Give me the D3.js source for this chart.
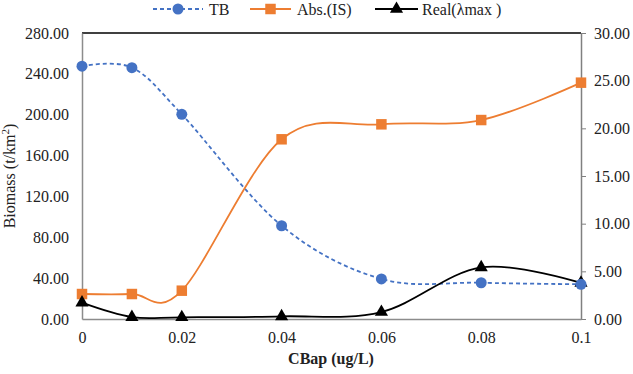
<!DOCTYPE html>
<html><head><meta charset="utf-8">
<script src="https://cdn.jsdelivr.net/npm/d3@7"></script>
<style>body{margin:0;background:#fff}svg{display:block}</style>
</head><body><svg id="c" width="633" height="374" font-family="Liberation Serif"></svg>
<script>
const xValues = [0, 0.01, 0.02, 0.04, 0.06, 0.08, 0.1];
const xTicks = [0, 0.02, 0.04, 0.06, 0.08, 0.1];
const xTickLabels = ["0", "0.02", "0.04", "0.06", "0.08", "0.1"];
const tb = [247.5, 246.1, 200.4, 91.3, 39.2, 35.5, 34.0];          // left axis
const absIS = [2.62, 2.62, 2.97, 18.85, 20.42, 20.87, 24.79];      // right axis
const realMax = [1.71, 0.20, 0.18, 0.28, 0.73, 5.42, 3.78];        // right axis
const leftTicks = [0, 40, 80, 120, 160, 200, 240, 280];
const rightTicks = [0, 5, 10, 15, 20, 25, 30];
const seriesNames = ["TB", "Abs.(IS)", "Real(\u03bbmax )"];

const FONT = "Liberation Serif";
const svg = d3.select("#c");
const L = 82, R = 581, T = 33, B = 319;
const x = d3.scaleLinear().domain([0, 0.1]).range([L, R]);
const yL = d3.scaleLinear().domain([0, 280]).range([B, T]);
const yR = d3.scaleLinear().domain([0, 30]).range([B, T]);

svg.append("line").attr("x1", L).attr("x2", R).attr("y1", T).attr("y2", T).attr("stroke", "#000").attr("stroke-width", 1.5);

const gl = svg.append("g").attr("transform", `translate(${L},0)`)
  .call(d3.axisLeft(yL).tickValues(leftTicks).tickFormat(d3.format(".2f")).tickSize(0).tickPadding(13));
gl.attr("font-family", FONT).attr("font-size", 16);
gl.select(".domain").attr("stroke", "#8c8c8c").attr("stroke-width", 1.5);
gl.selectAll("text").attr("fill", "#222");

const gr = svg.append("g").attr("transform", `translate(${R},0)`)
  .call(d3.axisRight(yR).tickValues(rightTicks).tickFormat(d3.format(".2f")).tickSize(5).tickSizeOuter(0).tickPadding(8));
gr.attr("font-family", FONT).attr("font-size", 16);
gr.select(".domain").attr("stroke", "#808080").attr("stroke-width", 1.5);
gr.selectAll(".tick line").attr("stroke", "#808080");
gr.selectAll("text").attr("fill", "#222");

const gb = svg.append("g").attr("transform", `translate(0,${B})`)
  .call(d3.axisBottom(x).tickValues(xTicks).tickFormat((d, i) => xTickLabels[i]).tickSize(0).tickPadding(13));
gb.attr("font-family", FONT).attr("font-size", 16);
gb.select(".domain").attr("stroke", "#8c8c8c").attr("stroke-width", 1.5);
gb.selectAll("text").attr("fill", "#222");

svg.append("text").attr("transform", `translate(15,${(T+B)/2}) rotate(-90)`).attr("text-anchor", "middle")
  .attr("font-size", 16).attr("fill", "#222").attr("font-family", FONT)
  .html('Biomass (t/km<tspan baseline-shift="super" font-size="11">2</tspan>)');
svg.append("text").attr("x", 331).attr("y", 364).attr("text-anchor", "middle").attr("font-family", FONT)
  .attr("font-size", 16).attr("font-weight", "bold").attr("fill", "#222").text("CBap (ug/L)");

const curve = d3.curveCardinal.tension(0);
const lineL = d3.line().x((d, i) => x(xValues[i])).y(d => yL(d)).curve(curve);
const lineR = d3.line().x((d, i) => x(xValues[i])).y(d => yR(d)).curve(curve);

const blue = "#4472C4", orange = "#ED7D31";

svg.append("path").attr("d", lineL(tb)).attr("fill", "none").attr("stroke", blue).attr("stroke-width", 1.8).attr("stroke-dasharray", "4,3");
svg.append("path").attr("d", lineR(absIS)).attr("fill", "none").attr("stroke", orange).attr("stroke-width", 1.8);
svg.append("path").attr("d", lineR(realMax)).attr("fill", "none").attr("stroke", "#000").attr("stroke-width", 1.8);

const sq = d3.symbol().type(d3.symbolSquare).size(110);
const tri = d3.symbol().type(d3.symbolTriangle).size(75);

svg.append("g").selectAll("path").data(absIS).join("path")
  .attr("d", sq).attr("transform", (d, i) => `translate(${x(xValues[i])},${yR(d)})`).attr("fill", orange);
svg.append("g").selectAll("path").data(realMax).join("path")
  .attr("d", tri).attr("transform", (d, i) => `translate(${x(xValues[i])},${yR(d)})`).attr("fill", "#000");
svg.append("g").selectAll("circle").data(tb).join("circle")
  .attr("cx", (d, i) => x(xValues[i])).attr("cy", d => yL(d)).attr("r", 5.5).attr("fill", blue);

const leg = svg.append("g").attr("font-family", FONT).attr("font-size", 16);
const ly = 9;
leg.append("line").attr("x1", 153).attr("x2", 203).attr("y1", ly).attr("y2", ly).attr("stroke", blue).attr("stroke-width", 1.8).attr("stroke-dasharray", "4,3");
leg.append("circle").attr("cx", 178).attr("cy", ly).attr("r", 5.5).attr("fill", blue);
leg.append("text").attr("x", 209).attr("y", ly + 5.5).attr("fill", "#222").text(seriesNames[0]);
leg.append("line").attr("x1", 250).attr("x2", 291).attr("y1", ly).attr("y2", ly).attr("stroke", orange).attr("stroke-width", 1.8);
leg.append("path").attr("d", sq).attr("transform", `translate(270.5,${ly})`).attr("fill", orange);
leg.append("text").attr("x", 297).attr("y", ly + 5.5).attr("fill", "#222").text(seriesNames[1]);
leg.append("line").attr("x1", 375).attr("x2", 418).attr("y1", ly).attr("y2", ly).attr("stroke", "#000").attr("stroke-width", 1.8);
leg.append("path").attr("d", tri).attr("transform", `translate(396.5,${ly})`).attr("fill", "#000");
leg.append("text").attr("x", 422).attr("y", ly + 5.5).attr("fill", "#222").text(seriesNames[2]);
</script></body></html>
